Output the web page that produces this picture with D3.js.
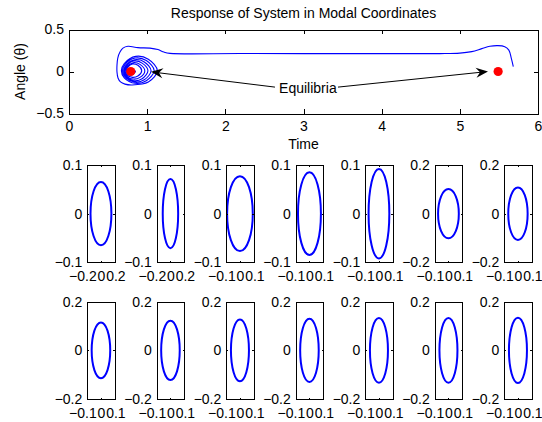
<!DOCTYPE html>
<html>
<head>
<meta charset="utf-8">
<script src="https://cdn.jsdelivr.net/npm/d3@7"></script>
<style>
    body { margin: 0; background: #fff; }
    text { font-family: "Liberation Sans", Arial, sans-serif; font-size: 14px; fill: #000; }
</style>
</head>
<body>
<script>
// ---- data ----
const chartTitle = 'Response of System in Modal Coordinates';
const timeTicks = [0, 1, 2, 3, 4, 5, 6];
const angleTicks = [-0.5, 0, 0.5];
const equilibria = [[0.79, 0], [5.49, 0]];

// trajectory [time, angle]
const trajectory = [
    [5.684, 0.057], [5.658, 0.16], [5.627, 0.255], [5.575, 0.296], [5.486, 0.308],
    [5.384, 0.30], [5.281, 0.272], [5.153, 0.237], [5.0, 0.219], [4.744, 0.213],
    [3.5, 0.213], [2.2, 0.214], [1.292, 0.216], [1.215, 0.231], [1.138, 0.261],
    [1.036, 0.278], [0.882, 0.284], [0.754, 0.30], [0.69, 0.278], [0.652, 0.231],
    [0.624, 0.16], [0.614, 0.077], [0.614, -0.006], [0.627, -0.077], [0.659, -0.124],
    [0.716, -0.15], [0.806, -0.16],
    [1.015, -0.126], [1.13, 0.01], [1.015, 0.146], [0.854, 0.18], [0.707, 0.095], [0.67, 0.01], [0.707, -0.075],
    [0.847, -0.14], [0.989, -0.11], [1.09, 0.01], [0.989, 0.13], [0.847, 0.16], [0.717, 0.085], [0.685, 0.01], [0.717, -0.065],
    [0.84, -0.125], [0.963, -0.099], [1.05, 0.008], [0.963, 0.114], [0.84, 0.14], [0.728, 0.074], [0.70, 0.008], [0.728, -0.059],
    [0.83, -0.11], [0.935, -0.087], [1.01, 0.008], [0.935, 0.10], [0.83, 0.125], [0.734, 0.066], [0.71, 0.008], [0.734, -0.051],
    [0.82, -0.09], [0.908, -0.07], [0.97, 0.007], [0.908, 0.085], [0.82, 0.105], [0.74, 0.056], [0.72, 0.007], [0.74, -0.041],
    [0.813, -0.07], [0.881, -0.054], [0.93, 0.01], [0.881, 0.074], [0.813, 0.09], [0.751, 0.05], [0.735, 0.01], [0.751, -0.03],
    [0.80, -0.04], [0.85, 0.0], [0.80, 0.03]
];

const labelText = 'Equilibria';
const labelPos = [3.056, -0.192];
const arrowFrom = [[2.635, -0.186], [3.441, -0.186]];
const arrowTo = [[1.049, -0.004], [5.36, 0]];

// modal phase portraits, 2 rows x 7
const modeXLim = [0.2, 0.2, 0.1, 0.1, 0.1, 0.1, 0.1, 0.1, 0.1, 0.1, 0.1, 0.1, 0.1, 0.1];
const modeYLim = [0.1, 0.1, 0.1, 0.1, 0.1, 0.2, 0.2, 0.2, 0.2, 0.2, 0.2, 0.2, 0.2, 0.2];
const modeRx = [0.153, 0.113, 0.094, 0.084, 0.076, 0.076, 0.071, 0.068, 0.068, 0.066, 0.068, 0.066, 0.066, 0.066];
const modeRy = [0.065, 0.071, 0.077, 0.085, 0.092, 0.101, 0.108, 0.115, 0.122, 0.127, 0.130, 0.133, 0.133, 0.134];

// ---- layout ----
const width = 542, height = 422;
const svg = d3.select('body').append('svg')
    .attr('width', width)
    .attr('height', height);

svg.append('rect')
    .attr('width', width)
    .attr('height', height)
    .attr('fill', '#fff');

const fmt = d3.format('');

function drawFrame(g, xs, ys, xt, yt, tick, xpad, ypad) {
    const [x0, x1] = xs.range();
    const [y0, y1] = ys.range();
    const frame = g.append('g').attr('shape-rendering', 'crispEdges');

    const bottom = frame.append('g')
        .attr('transform', `translate(0,${y0})`)
        .call(d3.axisBottom(xs).tickValues(xt).tickSizeInner(-tick).tickSizeOuter(0).tickPadding(xpad).tickFormat(fmt));
    frame.append('g')
        .attr('transform', `translate(0,${y1})`)
        .call(d3.axisTop(xs).tickValues(xt).tickSizeInner(-tick).tickSizeOuter(0).tickFormat(''));
    frame.append('g')
        .attr('transform', `translate(${x0},0)`)
        .call(d3.axisLeft(ys).tickValues(yt).tickSizeInner(-tick).tickSizeOuter(0).tickPadding(ypad).tickFormat(fmt));
    frame.append('g')
        .attr('transform', `translate(${x1},0)`)
        .call(d3.axisRight(ys).tickValues(yt).tickSizeInner(-tick).tickSizeOuter(0).tickFormat(''));

    frame.selectAll('text').attr('font-size', null).attr('font-family', null);
    frame.selectAll('path, line').attr('stroke', '#000');
    return bottom;
}

// push crowded outer tick labels sideways so they sit next to the middle one
function spreadLabels(bottom, half) {
    const texts = bottom.selectAll('.tick text').nodes();
    const w = texts.map(t => t.getComputedTextLength());
    const gap = 0.8;
    const leftShift = Math.min(0, half - w[1] / 2 - w[0] / 2 - gap);
    const rightShift = Math.max(0, w[1] / 2 + w[2] / 2 + gap - half);
    d3.select(texts[0]).attr('x', leftShift);
    d3.select(texts[2]).attr('x', rightShift);
}

// ---- top plot ----
const x = d3.scaleLinear().domain([0, 6]).range([69, 538]);
const y = d3.scaleLinear().domain([-0.5, 0.5]).range([113.5, 29.5]);

const topPlot = svg.append('g');

topPlot.append('path')
    .datum(trajectory)
    .attr('fill', 'none')
    .attr('stroke', '#0000ff')
    .attr('stroke-width', 1.1)
    .attr('d', d3.line().x(d => x(d[0])).y(d => y(d[1])).curve(d3.curveCatmullRom.alpha(0.5)));

topPlot.selectAll('circle.eq')
    .data(equilibria)
    .join('circle')
    .attr('class', 'eq')
    .attr('cx', d => x(d[0]))
    .attr('cy', d => y(d[1]))
    .attr('r', 4.6)
    .attr('fill', '#ff0000');

drawFrame(topPlot, x, y, timeTicks, angleTicks, 4.5, 8, 5);

// arrows
arrowFrom.forEach((from, i) => {
    const to = arrowTo[i];
    const x1 = x(from[0]), y1 = y(from[1]);
    const x2 = x(to[0]), y2 = y(to[1]);
    const a = Math.atan2(y2 - y1, x2 - x1);
    const len = 12, half = 5, notch = 4;
    const pt = (u, v) => [x2 + u * Math.cos(a) - v * Math.sin(a), y2 + u * Math.sin(a) + v * Math.cos(a)];

    topPlot.append('line')
        .attr('x1', x1).attr('y1', y1)
        .attr('x2', pt(-len + notch, 0)[0]).attr('y2', pt(-len + notch, 0)[1])
        .attr('stroke', '#000')
        .attr('stroke-width', 1);

    topPlot.append('polygon')
        .attr('points', [pt(0, 0), pt(-len, -half), pt(-len + notch, 0), pt(-len, half)].map(p => p.join(',')).join(' '))
        .attr('fill', '#000');
});

topPlot.append('text')
    .attr('x', x(labelPos[0]))
    .attr('y', y(labelPos[1]))
    .attr('dy', '0.35em')
    .attr('text-anchor', 'middle')
    .text(labelText);

svg.append('text')
    .attr('x', (x.range()[0] + x.range()[1]) / 2)
    .attr('y', 17.5)
    .attr('text-anchor', 'middle')
    .text(chartTitle);

svg.append('text')
    .attr('x', (x.range()[0] + x.range()[1]) / 2)
    .attr('y', 148.5)
    .attr('text-anchor', 'middle')
    .text('Time');

svg.append('text')
    .attr('transform', `translate(25,${(y.range()[0] + y.range()[1]) / 2}) rotate(-90)`)
    .attr('text-anchor', 'middle')
    .text('Angle (θ)');

// ---- small plots ----
const rowTop = [165, 301.7];
const panelH = 97.3, panelW = 27.3;

modeRx.forEach((rx, i) => {
    const row = Math.floor(i / 7), col = i % 7;
    const left = 87.3 + col * 69.5;
    const xl = modeXLim[i], yl = modeYLim[i];
    const xs = d3.scaleLinear().domain([-xl, xl]).range([left, left + panelW]);
    const ys = d3.scaleLinear().domain([-yl, yl]).range([rowTop[row] + panelH, rowTop[row]]);
    const g = svg.append('g');

    g.append('ellipse')
        .attr('cx', xs(0))
        .attr('cy', ys(0))
        .attr('rx', xs(rx) - xs(0))
        .attr('ry', ys(0) - ys(modeRy[i]))
        .attr('fill', 'none')
        .attr('stroke', '#0000ff')
        .attr('stroke-width', 2);

    const bottom = drawFrame(g, xs, ys, [-xl, 0, xl], [-yl, 0, yl], 1.5, 9, 5);
    spreadLabels(bottom, panelW / 2);
});
</script>
</body>
</html>
